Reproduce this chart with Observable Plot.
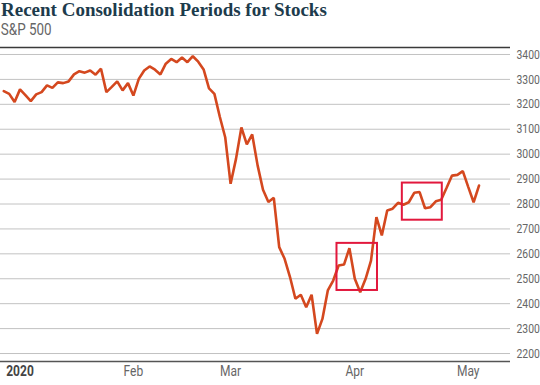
<!DOCTYPE html>
<html>
<head>
<meta charset="utf-8">
<script src="https://cdn.jsdelivr.net/npm/d3@7"></script>
<script src="https://cdn.jsdelivr.net/npm/@observablehq/plot@0.6"></script>
<style>
  body { margin: 0; background: #fff; }
  #wrap { width: 540px; height: 385px; overflow: hidden; position: relative; }
  #title {
    font-family: "Liberation Serif", "DejaVu Serif", serif;
    font-weight: bold; font-size: 19px; line-height: 20px; height: 20px;
    color: #1d3b4c; padding-left: 1px; white-space: nowrap;
  }
  #subtitle {
    font-family: "Roboto", sans-serif;
    font-size: 16px; line-height: 20px; height: 20px; color: #666; padding-left: 1px;
    transform: scaleX(0.84); transform-origin: 0 0; white-space: nowrap;
  }
  svg { display: block; }
</style>
</head>
<body>
<div id="wrap">
  <div id="title">Recent Consolidation Periods for Stocks</div>
  <div id="subtitle">S&amp;P 500</div>
  <div id="chart"></div>
</div>
<script>
// S&P 500 daily closes, one per trading session (Dec 27, 2019 – May 5, 2020)
const closes = [
  3253, 3242, 3209, 3260, 3237, 3213, 3240, 3249, 3276, 3266,
  3288, 3285, 3292, 3320, 3333, 3327, 3336, 3319, 3343, 3249,
  3270, 3292, 3256, 3285, 3235, 3302, 3336, 3352, 3339, 3320,
  3363, 3382, 3369, 3388, 3369, 3393, 3371, 3340, 3264, 3242,
  3150, 3068, 2881, 2981, 3107, 3039, 3079, 2955, 2857, 2808,
  2825, 2627, 2580, 2507, 2420, 2436, 2386, 2436, 2279, 2339,
  2453, 2493, 2553, 2557, 2623, 2500, 2446, 2500, 2573, 2747,
  2674, 2774, 2781, 2805, 2797, 2807, 2845, 2848, 2783, 2787,
  2811, 2817, 2865, 2914, 2917, 2932, 2869, 2807, 2874
];

// session index of the first trading day of each month, and its label
const monthSessions = [3, 24, 42, 65, 86];
const monthLabels = ["2020", "Feb", "Mar", "Apr", "May"];

// price gridlines
const priceTicks = [2200, 2300, 2400, 2500, 2600, 2700, 2800, 2900, 3000, 3100, 3200, 3300, 3400];
const priceRange = [2168, 3428];
const sessionRange = [-0.61, 93.83];

// consolidation windows: session span and price band
const boxStart = [61.7, 73.8];
const boxEnd = [69.2, 81.2];
const boxLow = [2453, 2735];
const boxHigh = [2642, 2884];

const series = closes.map((v, i) => ({session: i, close: v}));
const boxes = boxStart.map((s, k) => ({x1: s, x2: boxEnd[k], y1: boxLow[k], y2: boxHigh[k]}));
const labelOf = new Map(monthSessions.map((s, k) => [s, monthLabels[k]]));

const chart = Plot.plot({
  width: 540,
  height: 345,
  marginLeft: 0,
  marginRight: 30,
  marginTop: 7,
  marginBottom: 24,
  style: {fontFamily: "Roboto, sans-serif", background: "#fff"},
  x: {domain: sessionRange, axis: null},
  y: {domain: priceRange, axis: null},
  marks: [
    Plot.ruleY(priceTicks, {stroke: "#c2c2c2", strokeWidth: 1}),
    Plot.ruleY([priceRange[1]], {stroke: "#3a3a3a", strokeWidth: 1.5}),
    Plot.ruleY([priceRange[0]], {stroke: "#555", strokeWidth: 1.5}),
    Plot.axisY({
      ticks: priceTicks, anchor: "right", tickSize: 0, tickPadding: 6,
      fontSize: 13, fill: "#666", tickFormat: d => String(d), label: null
    }),
    Plot.axisX({
      ticks: monthSessions.slice(1), anchor: "bottom", tickSize: 0, tickPadding: 4,
      fontSize: 15, fill: "#666", tickFormat: d => labelOf.get(d), label: null
    }),
    Plot.axisX({
      ticks: monthSessions.slice(0, 1), anchor: "bottom", tickSize: 0, tickPadding: 4,
      fontSize: 15, fontWeight: "bold", fill: "#444", tickFormat: d => labelOf.get(d), label: null
    }),
    Plot.line(series, {x: "session", y: "close", stroke: "#d4481f", strokeWidth: 2.6, strokeLinejoin: "miter"}),
    Plot.rect(boxes, {x1: "x1", x2: "x2", y1: "y1", y2: "y2", fill: "none", stroke: "#e2183d", strokeWidth: 2})
  ]
});

document.getElementById("chart").appendChild(chart);

// condense the tick labels horizontally about their anchor point
const NS = "http://www.w3.org/2000/svg";
chart.querySelectorAll('g[aria-label$="tick label"] text').forEach(t => {
  const r = t.getBoundingClientRect();
  const anchor = getComputedStyle(t).textAnchor;
  const cx = anchor === "middle" ? r.left + r.width / 2 : anchor === "end" ? r.right : r.left;
  const parent = t.parentNode;
  const px = cx - parent.getScreenCTM().e;
  const g = document.createElementNS(NS, "g");
  g.setAttribute("transform", `translate(${px},0) scale(0.8,1) translate(${-px},0)`);
  parent.insertBefore(g, t);
  g.appendChild(t);
});
</script>
</body>
</html>
